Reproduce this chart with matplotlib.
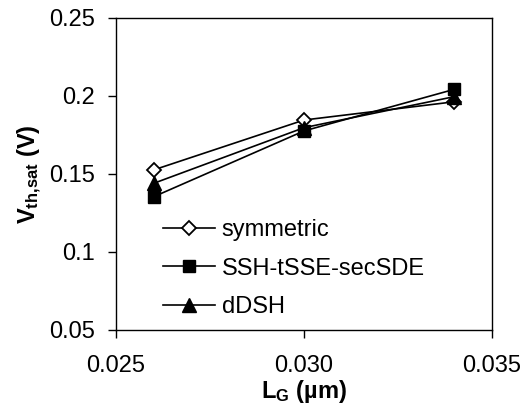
import matplotlib
matplotlib.use("Agg")
import matplotlib.pyplot as plt

plt.rcParams["font.family"] = ["Liberation Sans", "DejaVu Sans"]

# Threshold voltage vs gate length
lg = [0.026, 0.030, 0.034]
vth_symmetric = [0.1526, 0.1846, 0.1963]
vth_ssh = [0.1354, 0.1776, 0.2043]
vth_ddsh = [0.1440, 0.1797, 0.1996]

fig = plt.figure(figsize=(5.28, 4.16), dpi=100)
ax = fig.add_axes([116 / 528, 86 / 416, 376 / 528, 312 / 416])

ax.plot(lg, vth_symmetric, "k-", marker="D", mfc="white", mec="black",
        mew=1.3, ms=7, lw=1.2, label="symmetric")
ax.plot(lg, vth_ssh, "k-", marker="s", ms=8.5, lw=1.2, label="SSH-tSSE-secSDE")
ax.plot(lg, vth_ddsh, "k-", marker="^", ms=10, lw=1.2, label="dDSH")

ax.set_xlim(0.025, 0.035)
ax.set_ylim(0.05, 0.25)
ax.set_xticks([0.025, 0.030, 0.035])
ax.set_xticklabels(["0.025", "0.030", "0.035"])
ax.set_yticks([0.05, 0.1, 0.15, 0.2, 0.25])
ax.set_yticklabels(["0.05", "0.1", "0.15", "0.2", "0.25"])
ax.tick_params(direction="out", length=6, width=1, labelsize=17)
ax.tick_params(axis="x", pad=12)
ax.tick_params(axis="y", pad=9)

for s in ax.spines.values():
    s.set_linewidth(1)

ax.set_xlabel(r"$\mathregular{L_G}$ (µm)", fontsize=17, fontweight="bold", labelpad=1)
ax.set_ylabel(r"$\mathregular{V_{th{,}sat}}$ (V)", fontsize=17, fontweight="bold", labelpad=4)

ax.legend(loc="lower left", bbox_to_anchor=(0.08, -0.015), frameon=False,
          fontsize=17, handlelength=2.2, handletextpad=0.3, labelspacing=0.7,
          borderaxespad=0.3)

fig.savefig("out.png", dpi=100)
